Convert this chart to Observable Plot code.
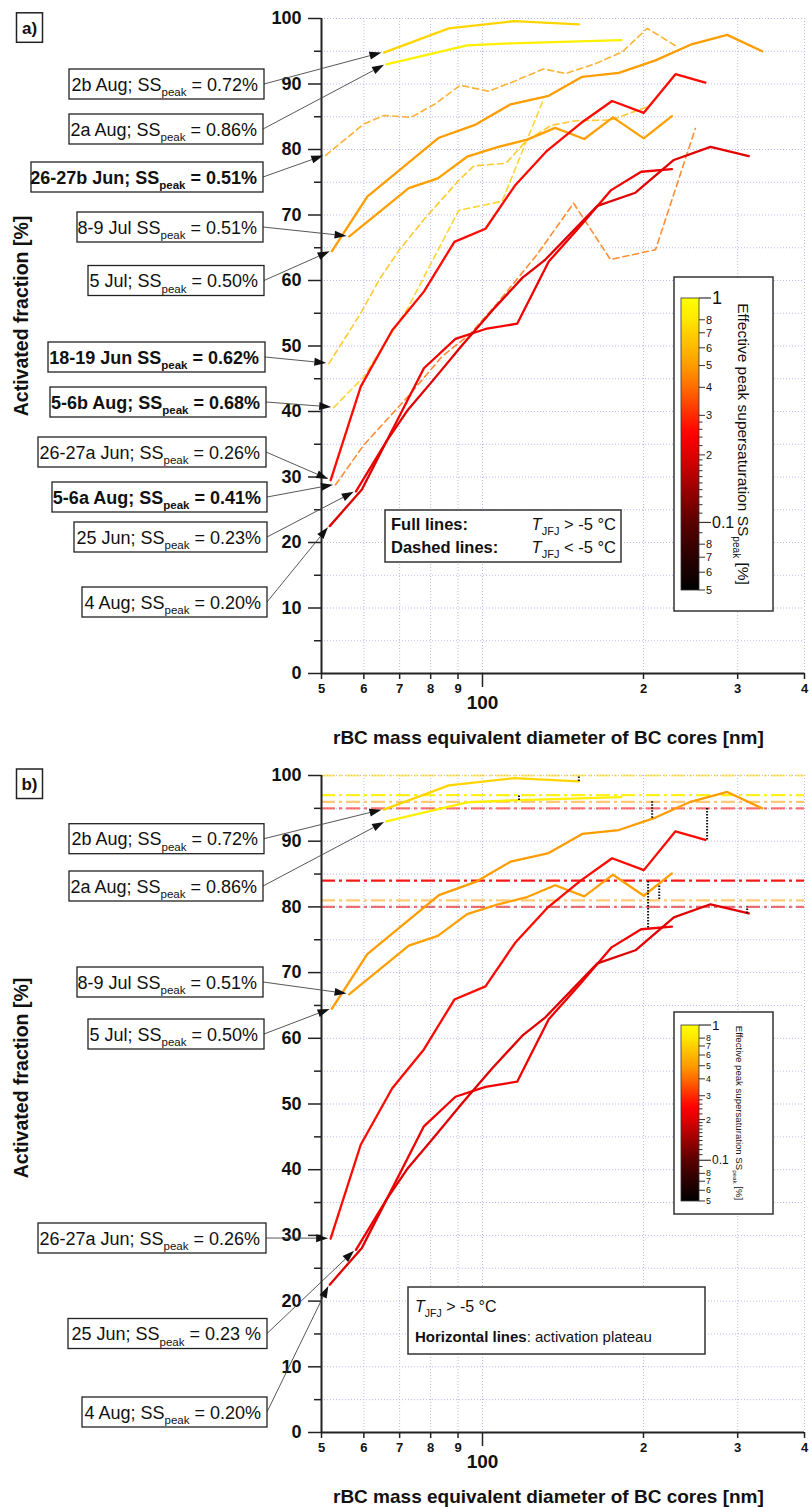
<!DOCTYPE html>
<html><head><meta charset="utf-8">
<script src="https://cdn.jsdelivr.net/npm/d3@7"></script>
<script src="https://cdn.jsdelivr.net/npm/@observablehq/plot@0.6"></script>
<style>
html,body{margin:0;padding:0;background:#fff;overflow:hidden}
#wrap svg{display:block}
</style>
</head><body><div id="wrap"></div>
<script>
// ---------------- DATA ----------------
const seriesNames  = ["2b Aug","2a Aug","26-27b Jun","8-9 Jul","5 Jul","18-19 Jun","5-6b Aug","26-27a Jun","5-6a Aug","25 Jun","4 Aug"];
const seriesSS     = [0.72, 0.86, 0.51, 0.51, 0.50, 0.62, 0.68, 0.26, 0.41, 0.23, 0.20];
const seriesDashed = [false,false,true,false,false,true,true,false,true,false,false];

const d_2bAug  = [65.4, 86.5, 114.5, 151.4];
const af_2bAug = [94.8, 98.5, 99.6, 99.1];
const d_2aAug  = [66.1, 93.6, 113, 181.9];
const af_2aAug = [93.0, 95.9, 96.2, 96.7];
const d_2627bJun  = [50.9, 60, 65.4, 73.5, 81.7, 90.8, 102.7, 114.5, 130, 143, 162.7, 182.5, 203.2, 231.2];
const af_2627bJun = [79.1, 83.9, 85.2, 84.9, 87.0, 89.8, 88.9, 90.4, 92.3, 91.6, 93.1, 94.9, 98.5, 95.7];
const d_89Jul  = [56.3, 72.8, 82.5, 93.6, 107, 121.2, 136.7, 155, 175.4, 200.2, 226];
const af_89Jul = [66.7, 74.1, 75.6, 78.9, 80.4, 81.5, 83.3, 81.6, 84.9, 81.7, 85.1];
const d_5Jul  = [52.3, 60.9, 82.9, 97.1, 112.9, 133, 153.6, 179.9, 210.6, 244.9, 286.8, 333.4];
const af_5Jul = [64.5, 72.8, 81.8, 83.8, 86.9, 88.2, 91.1, 91.7, 93.6, 96.0, 97.5, 95.0];
const d_1819Jun  = [51.6, 59.2, 64.3, 69.8, 77.7, 90.3, 96.4, 110.6, 121, 134.6, 149.5, 173.9, 203];
const af_1819Jun = [47.3, 55.0, 60.3, 64.6, 69.3, 75.3, 77.5, 77.9, 81.4, 83.7, 84.4, 84.5, 86.5];
const d_56bAug  = [52.7, 60, 66.3, 72.4, 81.3, 90.3, 96.4, 108.8, 129.5];
const af_56bAug = [40.6, 45.3, 50.9, 55.7, 63.6, 70.7, 71.2, 72.1, 87.3];
const d_2627aJun  = [52.0, 59.2, 67.8, 77.7, 88.6, 101.3, 115, 132, 152.6, 174.7, 200.3, 229.5, 261];
const af_2627aJun = [29.5, 43.8, 52.4, 58.3, 65.9, 67.9, 74.5, 79.8, 84.0, 87.4, 85.6, 91.5, 90.2];
const d_56aAug  = [53.1, 60, 72.4, 84, 95, 106.5, 126.6, 148, 173.5, 210.6, 250];
const af_56aAug = [28.8, 34.9, 42.2, 48.4, 51.9, 56.5, 64.0, 71.8, 63.2, 64.7, 83.2];
const d_25Jun  = [58.0, 66.3, 77.7, 89.0, 101.3, 116.1, 133, 152, 174, 198, 226];
const af_25Jun = [27.8, 35.6, 46.6, 51.1, 52.6, 53.4, 62.9, 68.2, 73.8, 76.6, 77.0];
const d_4Aug  = [51.8, 59.5, 66.3, 72.3, 80.5, 91.6, 104.2, 118.7, 131.1, 164, 193.2, 227.9, 266.9, 314.7];
const af_4Aug = [22.5, 28.1, 35.6, 40.1, 44.6, 50.1, 55.4, 60.4, 63.2, 71.4, 73.4, 78.4, 80.4, 79.0];

const seriesD  = [d_2bAug, d_2aAug, d_2627bJun, d_89Jul, d_5Jul, d_1819Jun, d_56bAug, d_2627aJun, d_56aAug, d_25Jun, d_4Aug];
const seriesAF = [af_2bAug, af_2aAug, af_2627bJun, af_89Jul, af_5Jul, af_1819Jun, af_56bAug, af_2627aJun, af_56aAug, af_25Jun, af_4Aug];

// activation plateaus (panel b)
const plateauSeries = ["2b Aug","2a Aug","5 Jul","26-27a Jun","25 Jun","8-9 Jul","4 Aug"];
const plateauAF     = [100, 97, 96, 95, 84, 81, 80];
const connectorD    = [151.4, 117, 207.6, 263, 204, 214, 312.5];
const connectorAF   = [99.1, 96.2, 93.5, 90.2, 76.8, 83.2, 79.0];

// axes ticks
const xSmallTicks = [50, 60, 70, 80, 90, 200, 300, 400];
const xSmallLabels = ["5","6","7","8","9","2","3","4"];
const xGridTicks = [60, 70, 80, 90, 100, 200, 300, 400];
const yMajorTicks = [0,10,20,30,40,50,60,70,80,90,100];
const yMinorTicks = [5,15,25,35,45,55,65,75,85,95];
const yGridTicks = [5,10,15,20,25,30,35,40,45,50,55,60,65,70,75,80,85,90,95,100];

// colour bar (SS_peak, %)
const cbStops  = [0.05, 0.07, 0.1, 0.15, 0.2, 0.25, 0.3, 0.4, 0.5, 0.6, 0.7, 0.8, 1];
const cbColors = ["#000000","#2a0000","#5a0000","#a80000","#e00000","#ff0000","#ff2a00","#ff6c00","#ff9c00","#ffb800","#ffd000","#ffe800","#ffff00"];
const cbMajor = [1, 0.1];
const cbMajorLabels = ["1", "0.1"];
const cbLabeled = [0.8, 0.7, 0.6, 0.5, 0.4, 0.3, 0.2, 0.08, 0.07, 0.06, 0.05];
const cbLabeledText = ["8","7","6","5","4","3","2","8","7","6","5"];
const cbMinor = [0.11,0.12,0.13,0.14,0.15,0.16,0.17,0.18,0.19,0.22,0.24,0.26,0.28,0.09];

// ---------------- BUILD ----------------
const FONT = "'Liberation Sans', Arial, Helvetica, sans-serif";
const ssColor = d3.scaleLog().domain(cbStops).range(cbColors).interpolate(d3.interpolateRgb);
const idx = Object.fromEntries(seriesNames.map((n,i)=>[n,i]));

const rows = [];
seriesNames.forEach((name,i)=>{
  seriesD[i].forEach((d,j)=>rows.push({series:name, ss:seriesSS[i], dashed:seriesDashed[i], col:ssColor(seriesSS[i]), d, af:seriesAF[i][j]}));
});
const solidRows = rows.filter(r=>!r.dashed);
const dashedRows = rows.filter(r=>r.dashed);
const plateauRows = plateauSeries.map((s,i)=>({series:s, af:plateauAF[i], col:ssColor(seriesSS[idx[s]]), op: (plateauAF[i]===84||plateauAF[i]===97) ? 0.9 : 0.55}));
const connRows = plateauSeries.map((s,i)=>({d:connectorD[i], af1:connectorAF[i], af2:plateauAF[i]}));

const gridStyle = {stroke:"#b9b9ee", strokeOpacity:1, strokeWidth:1, strokeDasharray:"1,2"};

function basePlot(h, mt, mb, marks){
  return Plot.plot({
    width: 809, height: h,
    marginLeft: 321, marginRight: 5, marginTop: mt, marginBottom: mb,
    x: {type:"log", domain:[50,400]},
    y: {domain:[0,100]},
    color: {type:"identity"},
    style: {fontFamily: FONT, background:"white", overflow:"visible", color:"#111"},
    marks: [
      Plot.gridY({ticks: yGridTicks, ...gridStyle}),
      Plot.gridX({ticks: xGridTicks, ...gridStyle}),
      ...marks,
      Plot.axisY({ticks: yMajorTicks, tickSize:13, tickPadding:7, fontSize:18, fontWeight:"bold", label:null, tickFormat:d=>String(d), stroke:"#222", strokeWidth:1.5}),
      Plot.axisY({ticks: yMinorTicks, tickSize:7, tickFormat:()=> "", label:null, stroke:"#222", strokeWidth:1.5}),
      Plot.axisX({ticks: xSmallTicks, tickSize:6, tickPadding:4, fontSize:13, fontWeight:"bold", label:null, tickFormat:d=>xSmallLabels[xSmallTicks.indexOf(d)], stroke:"#222", strokeWidth:1.5}),
      Plot.axisX({ticks: [100], tickSize:14, tickPadding:8, fontSize:19, fontWeight:"bold", label:null, tickFormat:()=> "100", stroke:"#222", strokeWidth:1.5}),
      Plot.ruleX([50], {stroke:"#222", strokeWidth:2}),
      Plot.ruleY([0], {stroke:"#222", strokeWidth:2})
    ]
  });
}

function richText(sel, parts, size, subSize){
  let inSub = false;
  const off = size*0.32;
  parts.forEach(p=>{
    const ts = sel.append("tspan").text(p.t);
    if (p.i) ts.attr("font-style","italic");
    if (p.b) ts.attr("font-weight","bold");
    if (p.sub && !inSub){ ts.attr("dy", off); inSub = true; }
    else if (!p.sub && inSub){ ts.attr("dy", -off); inSub = false; }
    if (p.sub) ts.attr("font-size", subSize);
  });
}

function layer(svg){
  return d3.select(svg).append("g").attr("font-family", FONT).attr("fill","#111").attr("text-anchor","start");
}

function annotate(svg, boxes){
  const xs = svg.scale("x"), ys = svg.scale("y");
  const g = layer(svg);
  for (const b of boxes){
    const i = idx[b.series];
    const tx = xs.apply(seriesD[i][0]), ty = ys.apply(seriesAF[i][0]);
    const sx = b.x1, sy = b.cy;
    const dx = tx-sx, dy = ty-sy, L = Math.hypot(dx,dy), ux = dx/L, uy = dy/L;
    const tipX = tx-ux*2, tipY = ty-uy*2;
    const bx = tipX-ux*12, by = tipY-uy*12;
    g.append("line").attr("x1",sx).attr("y1",sy).attr("x2",bx).attr("y2",by).attr("stroke","#444").attr("stroke-width",0.9);
    g.append("path").attr("d",`M${tipX},${tipY}L${bx-uy*4},${by+ux*4}L${bx+uy*4},${by-ux*4}Z`).attr("fill","#111");
    g.append("rect").attr("x",b.x0).attr("y",b.cy-15).attr("width",b.x1-b.x0).attr("height",30)
      .attr("fill","white").attr("stroke","#222").attr("stroke-width",1.3);
    const bold = seriesDashed[i];
    const t = g.append("text").attr("x",b.x1-6).attr("y",b.cy+6.5).attr("text-anchor","end")
      .attr("font-size",18).attr("font-weight", bold ? "bold" : "normal");
    const pct = seriesSS[i].toFixed(2) + (b.pctSpace ? " %" : "%");
    richText(t, [{t: b.series + b.sep + "SS"}, {t:"peak", sub:true}, {t:" = " + pct}], 18, 11.5);
  }
}

function panelLabel(svg, y0, txt){
  const g = layer(svg);
  g.append("rect").attr("x",16.5).attr("y",y0).attr("width",26).attr("height",29.5).attr("fill","white").attr("stroke","#222").attr("stroke-width",1.5);
  g.append("text").attr("x",29.5).attr("y",y0+21).attr("text-anchor","middle").attr("font-size",17).attr("font-weight","bold").text(txt);
}

function axisTitles(svg, yCenter, xBaseline){
  const g = layer(svg).attr("font-weight","bold");
  g.append("text").attr("transform",`translate(28,${yCenter}) rotate(-90)`).attr("text-anchor","middle").attr("font-size",19.5).text("Activated fraction [%]");
  g.append("text").attr("x",333).attr("y",xBaseline).attr("text-anchor","start").attr("font-size",19).text("rBC mass equivalent diameter of BC cores [nm]");
}

function colorbar(svg, id, y0, y1, k){
  const x0 = 674, x1 = 773;
  const g = layer(svg);
  g.append("rect").attr("x",x0).attr("y",y0).attr("width",x1-x0).attr("height",y1-y0).attr("fill","white").attr("stroke","#333").attr("stroke-width",1.5);
  const bTop = y0 + 21*k, bBot = y1 - 21*k, bx0 = 681, bx1 = 699;
  const grad = d3.select(svg).append("defs").append("linearGradient").attr("id",id).attr("x1",0).attr("y1",1).attr("x2",0).attr("y2",0);
  d3.range(0, 41).forEach(j=>{
    const t = j/40, v = 0.05*Math.pow(20, t);
    grad.append("stop").attr("offset", t).attr("stop-color", ssColor(v));
  });
  g.append("rect").attr("x",bx0).attr("y",bTop).attr("width",bx1-bx0).attr("height",bBot-bTop).attr("fill",`url(#${id})`).attr("stroke","#333").attr("stroke-width",0.8);
  const cs = d3.scaleLog().domain([0.05,1]).range([bBot,bTop]);
  cbMinor.forEach(v=>g.append("line").attr("x1",bx1).attr("x2",bx1+3.5).attr("y1",cs(v)).attr("y2",cs(v)).attr("stroke","#333").attr("stroke-width",1));
  cbLabeled.forEach((v,j)=>{
    g.append("line").attr("x1",bx1).attr("x2",bx1+6).attr("y1",cs(v)).attr("y2",cs(v)).attr("stroke","#333").attr("stroke-width",1);
    g.append("text").attr("x",bx1+7).attr("y",cs(v)).attr("dy","0.35em").attr("font-size",11*Math.max(k,0.8)).text(cbLabeledText[j]);
  });
  cbMajor.forEach((v,j)=>{
    g.append("line").attr("x1",bx1).attr("x2",bx1+12).attr("y1",cs(v)).attr("y2",cs(v)).attr("stroke","#333").attr("stroke-width",1.2);
    g.append("text").attr("x",bx1+13).attr("y",cs(v)).attr("dy","0.35em").attr("font-size",(j===0?18:16)*Math.max(k,0.75)).text(cbMajorLabels[j]);
  });
  const fs = 15.5*k;
  const t = g.append("text").attr("transform",`translate(${738-4*(1-k)},${(y0+y1)/2}) rotate(90)`).attr("text-anchor","middle").attr("font-size",fs);
  richText(t, [{t:"Effective peak supersaturation SS"},{t:"peak",sub:true},{t:" [%]"}], fs, fs*0.65);
}

// ---------------- PANEL A ----------------
const wrap = document.getElementById("wrap");
const svgA = basePlot(750, 18, 77, [
  Plot.line(dashedRows, {x:"d", y:"af", z:"series", stroke:"col", strokeWidth:1.6, strokeDasharray:"6,4", strokeOpacity:0.8}),
  Plot.line(solidRows, {x:"d", y:"af", z:"series", stroke:"col", strokeWidth:2.3, strokeLinejoin:"round"})
]);
wrap.append(svgA);
axisTitles(svgA, 316, 744);
panelLabel(svgA, 12.8, "a)");
colorbar(svgA, "cbA", 277, 611, 1);
{
  const g = layer(svgA);
  g.append("rect").attr("x",385).attr("y",510).attr("width",236).attr("height",52).attr("fill","white").attr("stroke","#333").attr("stroke-width",1.5);
  g.append("text").attr("x",391).attr("y",530).attr("font-size",16.5).attr("font-weight","bold").text("Full lines:");
  g.append("text").attr("x",391).attr("y",553).attr("font-size",16.5).attr("font-weight","bold").text("Dashed lines:");
  const t1 = g.append("text").attr("x",616).attr("y",530).attr("font-size",16.5).attr("text-anchor","end");
  richText(t1, [{t:"T", i:true},{t:"JFJ", sub:true},{t:" > -5 °C"}], 16.5, 11);
  const t2 = g.append("text").attr("x",616).attr("y",553).attr("font-size",16.5).attr("text-anchor","end");
  richText(t2, [{t:"T", i:true},{t:"JFJ", sub:true},{t:" < -5 °C"}], 16.5, 11);
}
annotate(svgA, [
  {series:"2b Aug", sep:"; ", x0:69, x1:264, cy:84},
  {series:"2a Aug", sep:"; ", x0:69, x1:263, cy:129},
  {series:"26-27b Jun", sep:"; ", x0:31, x1:263, cy:177},
  {series:"8-9 Jul", sep:" ", x0:77, x1:263, cy:227},
  {series:"5 Jul", sep:"; ", x0:88, x1:264, cy:280.5},
  {series:"18-19 Jun", sep:" ", x0:48, x1:265, cy:357},
  {series:"5-6b Aug", sep:"; ", x0:50, x1:266, cy:402},
  {series:"26-27a Jun", sep:"; ", x0:38, x1:266, cy:452},
  {series:"5-6a Aug", sep:"; ", x0:52, x1:267, cy:497},
  {series:"25 Jun", sep:"; ", x0:74, x1:267, cy:537},
  {series:"4 Aug", sep:"; ", x0:82, x1:267, cy:602}
]);

// ---------------- PANEL B ----------------
const svgB = basePlot(757, 25, 75, [
  Plot.ruleY(plateauRows, {y:"af", stroke:"col", strokeWidth:2.2, strokeOpacity:"op", strokeDasharray:"14,4,3,4"}),
  Plot.line(solidRows, {x:"d", y:"af", z:"series", stroke:"col", strokeWidth:2.3, strokeLinejoin:"round"}),
  Plot.ruleX(connRows, {x:"d", y1:"af1", y2:"af2", stroke:"#111", strokeWidth:2, strokeDasharray:"1.5,1.5"})
]);
wrap.append(svgB);
axisTitles(svgB, 328, 753);
panelLabel(svgB, 19, "b)");
colorbar(svgB, "cbB", 262, 464, 0.62);
{
  const g = layer(svgB);
  g.append("rect").attr("x",408).attr("y",537).attr("width",297).attr("height",67).attr("fill","white").attr("stroke","#333").attr("stroke-width",1.5);
  const t1 = g.append("text").attr("x",415).attr("y",562).attr("font-size",16);
  richText(t1, [{t:"T", i:true},{t:"JFJ", sub:true},{t:" > -5 °C"}], 16, 10.5);
  const t2 = g.append("text").attr("x",415).attr("y",592).attr("font-size",15);
  richText(t2, [{t:"Horizontal lines", b:true},{t:": activation plateau"}], 15, 10);
}
annotate(svgB, [
  {series:"2b Aug", sep:"; ", x0:69, x1:264, cy:88.7},
  {series:"2a Aug", sep:"; ", x0:69, x1:263, cy:136},
  {series:"8-9 Jul", sep:" ", x0:77, x1:263, cy:232},
  {series:"5 Jul", sep:"; ", x0:88, x1:264, cy:284},
  {series:"26-27a Jun", sep:"; ", x0:38, x1:266, cy:488},
  {series:"25 Jun", sep:"; ", x0:68, x1:267, cy:583.5, pctSpace:true},
  {series:"4 Aug", sep:"; ", x0:82, x1:267, cy:662}
]);
</script>
</body></html>
